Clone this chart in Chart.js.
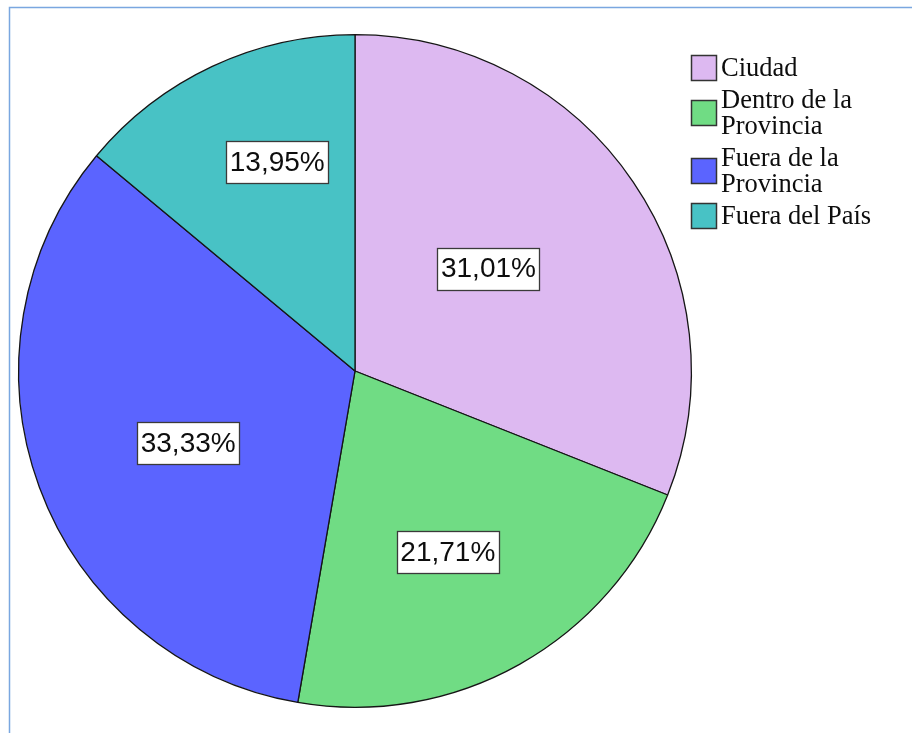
<!DOCTYPE html>
<html lang="es">
<head>
<meta charset="utf-8">
<title>Distribución por procedencia</title>
<script src="https://cdn.jsdelivr.net/npm/chart.js@4.4.1/dist/chart.umd.min.js"></script>
<style>
  html, body { margin: 0; padding: 0; background: #ffffff; }
  #wrap { position: relative; width: 912px; height: 733px; }
  canvas { display: block; }
</style>
</head>
<body>
<div id="wrap"><canvas id="pie" width="912" height="733"></canvas></div>
<script>
// Categories and their shares (percent of total)
const categories = ['Ciudad', 'Dentro de la Provincia', 'Fuera de la Provincia', 'Fuera del País'];
const percentages = [31.01, 21.71, 33.33, 13.95];
const sliceColors = ['#DDB9F1', '#70DC84', '#5B64FF', '#48C2C5'];

// Formats a share with a decimal comma, e.g. 31,01%
function formatPercent(v) {
  return v.toFixed(2).replace('.', ',') + '%';
}

// Thin blue frame along the left and top edges
const framePlugin = {
  id: 'frame',
  beforeDraw(chart) {
    const ctx = chart.ctx;
    ctx.save();
    ctx.strokeStyle = '#7AA7E0';
    ctx.lineWidth = 1.5;
    ctx.beginPath();
    ctx.moveTo(9.5, chart.height);
    ctx.lineTo(9.5, 7.5);
    ctx.lineTo(chart.width, 7.5);
    ctx.stroke();
    ctx.restore();
  }
};

// Boxed percentage labels placed inside each slice
const sliceLabelPlugin = {
  id: 'sliceLabels',
  afterDatasetsDraw(chart, args, opts) {
    const ctx = chart.ctx;
    const meta = chart.getDatasetMeta(0);
    const values = chart.data.datasets[0].data;
    ctx.save();
    ctx.font = opts.font;
    ctx.textAlign = 'center';
    ctx.textBaseline = 'middle';
    meta.data.forEach((arc, i) => {
      const p = arc.getProps(['x', 'y', 'startAngle', 'endAngle', 'outerRadius'], true);
      const place = opts.placement[i];
      const mid = (p.startAngle + p.endAngle) / 2 + place.shift * Math.PI / 180;
      const r = p.outerRadius * place.radius;
      const cx = p.x + Math.cos(mid) * r;
      const cy = p.y + Math.sin(mid) * r;
      const text = formatPercent(values[i]);
      const w = Math.round(ctx.measureText(text).width + opts.padX * 2);
      const h = opts.boxHeight;
      const bx = Math.round(cx - w / 2) + 0.5;
      const by = Math.round(cy - h / 2) + 0.5;
      ctx.fillStyle = '#ffffff';
      ctx.fillRect(bx, by, w, h);
      ctx.strokeStyle = '#3a3a3a';
      ctx.lineWidth = 1.3;
      ctx.strokeRect(bx, by, w, h);
      ctx.fillStyle = '#0d0d0d';
      ctx.fillText(text, cx, cy + 1);
    });
    ctx.restore();
  }
};

// Legend to the right of the pie, with wrapped category names
const sideLegendPlugin = {
  id: 'sideLegend',
  afterDraw(chart, args, opts) {
    const ctx = chart.ctx;
    const labels = chart.data.labels;
    const colors = chart.data.datasets[0].backgroundColor;
    ctx.save();
    ctx.font = opts.font;
    ctx.textAlign = 'left';
    ctx.textBaseline = 'alphabetic';
    let baseline = opts.top;
    labels.forEach((label, i) => {
      // wrap words to the legend's maximum width
      const words = label.split(' ');
      const lines = [];
      let cur = '';
      words.forEach(wd => {
        const test = cur ? cur + ' ' + wd : wd;
        if (cur && ctx.measureText(test).width > opts.maxWidth) {
          lines.push(cur);
          cur = wd;
        } else {
          cur = test;
        }
      });
      if (cur) lines.push(cur);

      const firstBase = baseline;
      ctx.fillStyle = '#0d0d0d';
      lines.forEach((ln, k) => {
        ctx.fillText(ln, opts.textX, baseline + k * opts.lineHeight);
      });
      const lastBase = baseline + (lines.length - 1) * opts.lineHeight;
      const centerY = (firstBase + lastBase) / 2 - opts.capMid;
      const s = opts.boxSize;
      const bx = opts.boxX + 0.5;
      const by = Math.round(centerY - s / 2) + 0.5;
      ctx.fillStyle = colors[i];
      ctx.fillRect(bx, by, s, s);
      ctx.strokeStyle = '#333333';
      ctx.lineWidth = 1.5;
      ctx.strokeRect(bx, by, s, s);

      baseline = lastBase + opts.itemStep;
    });
    ctx.restore();
  }
};

new Chart(document.getElementById('pie'), {
  type: 'pie',
  data: {
    labels: categories,
    datasets: [{
      data: percentages,
      backgroundColor: sliceColors,
      borderColor: '#151515',
      borderWidth: 1.3,
      hoverOffset: 0
    }]
  },
  options: {
    responsive: false,
    animation: false,
    devicePixelRatio: 1,
    layout: { padding: { left: 18, top: 34, right: 220, bottom: 25 } },
    plugins: {
      legend: { display: false },
      tooltip: { enabled: false },
      sliceLabels: {
        font: '28px "Liberation Sans", Arial, sans-serif',
        padX: 3.5,
        boxHeight: 42,
        placement: [
          { shift: -3.3, radius: 0.50 },
          { shift: 2.2, radius: 0.606 },
          { shift: -3.1, radius: 0.54 },
          { shift: 4.7, radius: 0.663 }
        ]
      },
      sideLegend: {
        font: '26.5px "Liberation Serif", "Times New Roman", serif',
        top: 76,
        textX: 721,
        boxX: 691,
        boxSize: 25,
        lineHeight: 26,
        itemStep: 32,
        capMid: 8.5,
        maxWidth: 165
      }
    }
  },
  plugins: [framePlugin, sliceLabelPlugin, sideLegendPlugin]
});
</script>
</body>
</html>
